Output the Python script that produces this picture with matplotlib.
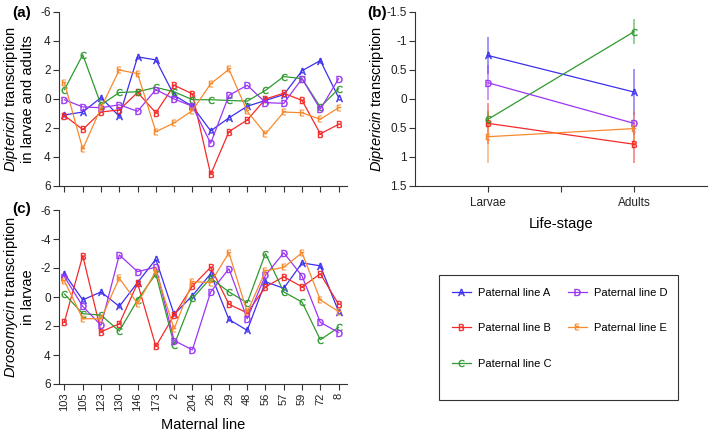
import matplotlib
matplotlib.use("Agg")
import matplotlib.pyplot as plt
from matplotlib.patches import Rectangle
import numpy as np

plt.rcParams['font.family'] = ['Liberation Sans', 'DejaVu Sans']
plt.rcParams['mathtext.fontset'] = 'custom'
plt.rcParams['mathtext.rm'] = 'Liberation Sans'
plt.rcParams['mathtext.it'] = 'Liberation Sans:italic'
plt.rcParams['mathtext.bf'] = 'Liberation Sans:bold'
plt.rcParams['mathtext.sf'] = 'DejaVu Sans'

# ---------------- data ----------------
maternal_lines = ['103', '105', '123', '130', '146', '173', '2', '204', '26',
                  '29', '48', '56', '57', '59', '72', '8']
paternal = ['A', 'B', 'C', 'D', 'E']
paternal_labels = ['Paternal line A', 'Paternal line B', 'Paternal line C',
                   'Paternal line D', 'Paternal line E']

# (a) Diptericin transcription in larvae and adults
dipt_A = [1.1, 0.9, -0.1, 1.2, -2.9, -2.7, -0.25, 0.5, 2.2, 1.3, 0.5, 0.1, -0.3, -1.95, -2.65, -0.1]
dipt_B = [1.15, 2.1, 0.9, 0.75, -0.45, 0.95, -0.95, -0.35, 5.2, 2.25, 1.45, 0.0, -0.4, 0.1, 2.4, 1.75]
dipt_C = [-0.65, -3.05, 0.4, -0.45, -0.5, -0.8, -0.5, 0.05, 0.05, 0.1, 0.15, -0.6, -1.55, -1.4, 0.55, -0.7]
dipt_D = [0.05, 0.55, 0.6, 0.4, 0.85, -0.65, 0.0, 0.5, 3.05, -0.25, -0.95, 0.25, 0.3, -1.4, 0.7, -1.4]
dipt_E = [-1.1, 3.45, 0.6, -2.0, -1.75, 2.25, 1.65, 0.8, -1.05, -2.05, 0.85, 2.4, 0.9, 0.95, 1.4, 0.6]

# (c) Drosomycin transcription in larvae
dros_A = [-1.6, 0.2, -0.35, 0.65, -1.0, -2.6, 1.2, -0.1, -1.6, 1.55, 2.3, -1.05, -0.6, -2.35, -2.15, 1.0]
dros_B = [1.7, -2.85, 2.4, 1.85, -0.95, 3.4, 1.25, -0.75, -2.05, 0.5, 1.1, -0.7, -1.4, -0.7, -1.6, 0.5]
dros_C = [-0.2, 1.15, 1.25, 2.35, 0.2, -1.6, 3.3, 0.1, -1.3, -0.35, 0.4, -3.0, -0.35, 0.35, 2.95, 2.1]
dros_D = [-1.4, 0.65, 1.95, -2.9, -1.75, -2.05, 3.0, 3.65, -0.35, -1.95, 1.5, -1.5, -3.05, -1.45, 1.75, 2.45]
dros_E = [-1.1, 1.5, 1.5, -1.3, 0.45, -1.8, 2.2, -1.05, -1.0, -3.05, 1.05, -1.8, -2.05, -3.05, 0.2, 1.0]

# (b) Diptericin transcription by life stage (mean, error)
stages = ['Larvae', 'Adults']
stage_A = [-0.75, -0.12]
stage_B = [0.42, 0.78]
stage_C = [0.35, -1.16]
stage_D = [-0.28, 0.42]
stage_E = [0.65, 0.51]
err_A = [0.32, 0.40]
err_B = [0.35, 0.33]
err_C = [0.15, 0.22]
err_D = [0.30, 0.20]
err_E = [0.45, 0.30]

ticks_a = [-6, -4, -2, 0, 2, 4, 6]
ticklabels_a = ['-6', '4', '2', '0', '2', '4', '6']
ticklabels_c = ['-6', '-4', '-2', '0', '2', '4', '6']
ticks_b = [-1.5, -1, -0.5, 0, 0.5, 1, 1.5]
ticklabels_b = ['-1.5', '-1', '0.5', '0', '0.5', '1', '1.5']

colors = {'A': '#3d2ff0', 'B': '#f42a2a', 'C': '#2f9a2f', 'D': '#9b35f5', 'E': '#f78a2d'}

dipt = {'A': dipt_A, 'B': dipt_B, 'C': dipt_C, 'D': dipt_D, 'E': dipt_E}
dros = {'A': dros_A, 'B': dros_B, 'C': dros_C, 'D': dros_D, 'E': dros_E}
stage = {'A': stage_A, 'B': stage_B, 'C': stage_C, 'D': stage_D, 'E': stage_E}
errs = {'A': err_A, 'B': err_B, 'C': err_C, 'D': err_D, 'E': err_E}

W, H = 711, 437
fig = plt.figure(figsize=(W / 100, H / 100), dpi=100)

def fx(px):
    return px / W

def fy(py):
    return 1 - py / H

ax_a = fig.add_axes([fx(59), fy(186), fx(288), (186 - 12) / H])
ax_c = fig.add_axes([fx(59), fy(384), fx(288), (384 - 210) / H])
ax_b = fig.add_axes([fx(415), fy(186), fx(292), (186 - 12) / H])

TICKCOL = '#222222'
x = np.arange(len(maternal_lines))
MS = 5
MEW = 0.35

def mk(p):
    return r'$\mathsf{%s}$' % p

def style(ax):
    for s in ['top', 'right']:
        ax.spines[s].set_visible(False)
    for s in ['left', 'bottom']:
        ax.spines[s].set_linewidth(0.8)
        ax.spines[s].set_color('#333333')
    ax.tick_params(direction='out', length=4, width=0.8, color='#333333',
                   labelsize=8.5, labelcolor=TICKCOL, pad=2)

handles = []
for p in paternal:
    h, = ax_a.plot(x, dipt[p], color=colors[p], lw=0.9, marker=mk(p), ms=MS,
                   markeredgewidth=MEW)
    handles.append(h)
    ax_c.plot(x, dros[p], color=colors[p], lw=0.9, marker=mk(p), ms=MS,
              markeredgewidth=MEW)

for ax, labs in [(ax_a, ticklabels_a), (ax_c, ticklabels_c)]:
    style(ax)
    ax.set_ylim(6, -6)
    ax.set_xlim(-0.3, 15.46)
    ax.set_yticks(ticks_a)
    ax.set_yticklabels(labs)
    ax.set_xticks(x)

ax_a.set_xticklabels([])
ax_c.set_xticklabels(maternal_lines, rotation=90)
ax_c.tick_params(axis='x', labelsize=8)
ax_c.set_xlabel('Maternal line', fontsize=10.5, labelpad=5)

ax_a.set_ylabel(r'$\mathit{Diptericin}$ transcription' + '\nin larvae and adults',
                fontsize=10.5, linespacing=1.05)
ax_a.yaxis.set_label_coords(-0.085, 0.5)
ax_c.set_ylabel(r'$\mathit{Drosomycin}$ transcription' + '\nin larvae',
                fontsize=10.5, linespacing=1.05)
ax_c.yaxis.set_label_coords(-0.085, 0.5)

# (b)
xs = np.array([1, 2])
for p in paternal:
    ax_b.errorbar(xs, stage[p], yerr=errs[p], fmt='none', ecolor=colors[p],
                  elinewidth=1.4, alpha=0.5, capsize=0)
for p in paternal:
    ax_b.plot(xs, stage[p], color=colors[p], lw=0.9, marker=mk(p),
              ms=MS, markeredgewidth=MEW)
style(ax_b)
ax_b.set_ylim(1.5, -1.5)
ax_b.set_xlim(0.5, 2.5)
ax_b.set_yticks(ticks_b)
ax_b.set_yticklabels(ticklabels_b)
ax_b.set_xticks([1, 1.5, 2])
ax_b.set_xticklabels([stages[0], '', stages[1]])
ax_b.tick_params(axis='x', pad=4)
ax_b.set_xlabel('Life-stage', fontsize=10.5, labelpad=6)
ax_b.set_ylabel(r'$\mathit{Diptericin}$ transcription', fontsize=10.5)
ax_b.yaxis.set_label_coords(-0.1, 0.5)

# panel letters
fig.text(fx(12), fy(13), '(a)', fontsize=11, fontweight='bold', va='center')
fig.text(fx(367), fy(13), '(b)', fontsize=11, fontweight='bold', va='center')
fig.text(fx(12), fy(209), '(c)', fontsize=11, fontweight='bold', va='center')

# legend with its own frame
frame = Rectangle((fx(439), fy(400)), fx(678 - 439), (400 - 275) / H,
                  transform=fig.transFigure, fill=False, edgecolor='#333333',
                  linewidth=0.8)
fig.patches.append(frame)
leg = fig.legend(handles, paternal_labels, ncol=2, loc='upper left',
                 bbox_to_anchor=(fx(439), fy(275)), fontsize=8,
                 frameon=False, borderpad=1.15, labelspacing=2.3, handlelength=1.7,
                 handletextpad=0.7, columnspacing=1.4, borderaxespad=0)

fig.savefig('out.png', dpi=100)
